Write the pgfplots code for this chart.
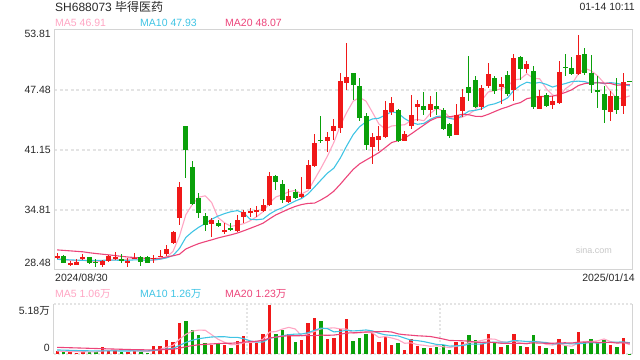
\documentclass[border=0pt]{standalone}
\usepackage{fontspec}
\setmainfont{Liberation Sans}
\newfontfamily\cjk{Noto Sans CJK SC}
\usepackage{pgfplots}
\pgfplotsset{compat=1.18}
\usepackage{pgfplotstable}
\definecolor{up}{RGB}{240,24,24}
\definecolor{dn}{RGB}{10,160,10}
\definecolor{maA}{RGB}{255,165,195}
\definecolor{maB}{RGB}{64,196,228}
\definecolor{maC}{RGB}{236,68,122}
\definecolor{framec}{RGB}{212,212,212}
\definecolor{gridc}{RGB}{228,228,228}
\definecolor{txt}{RGB}{40,40,40}

\pgfplotstableread{
i o h l c v
0 29.78 30.24 29.60 29.99 3100
2 29.00 29.46 28.90 29.21 2400
3 29.04 29.64 28.97 29.32 1400
4 29.64 30.13 29.53 29.88 2400
7 29.00 29.53 28.83 29.42 7200
8 29.46 30.06 29.35 29.95 4100
9 29.64 30.34 29.53 29.88 4100
11 29.28 29.74 28.83 29.46 2400
12 29.71 30.24 29.64 29.74 3400
15 29.64 30.06 29.25 29.78 8300
16 29.92 30.59 29.81 29.99 8300
17 30.16 31.11 29.99 30.73 14500
18 31.36 32.63 31.22 32.49 12400
19 34.00 37.80 33.22 37.24 32500
24 33.37 33.93 31.99 33.75 9700
26 32.56 33.40 32.27 32.63 9300
28 32.59 34.28 32.52 33.75 13500
29 34.10 34.81 33.47 34.63 18600
30 34.60 34.98 34.10 34.67 11700
31 34.67 35.27 34.10 34.74 11700
32 34.74 35.93 34.63 35.34 21100
33 35.34 38.78 35.27 38.40 50800
36 35.69 37.02 35.51 36.29 20400
38 36.15 38.26 36.04 36.50 14500
39 37.06 40.09 36.99 39.52 32100
40 39.45 42.80 39.38 41.85 37000
42 42.13 43.04 40.93 42.48 15500
43 43.18 44.45 42.20 43.68 16900
44 43.50 49.24 42.90 48.43 26200
45 48.25 52.40 47.48 48.81 36300
49 41.46 42.94 39.70 42.52 22100
50 42.23 43.64 41.00 42.66 12800
51 42.48 46.28 42.41 45.40 18000
52 45.15 46.70 44.80 46.10 9300
54 42.13 43.11 42.06 42.83 4100
55 43.71 46.98 43.40 44.84 15200
56 45.68 46.46 44.24 46.00 8300
58 45.40 46.84 44.59 46.00 6200
62 42.76 46.00 42.69 44.80 12800
63 45.30 47.58 44.59 46.74 12800
66 45.68 48.04 45.40 47.69 10400
67 47.86 50.33 47.69 49.17 20700
69 47.79 48.81 46.03 48.11 7200
71 47.51 51.31 46.28 50.85 20700
73 49.73 50.50 49.27 50.22 7200
75 45.51 47.51 45.51 46.81 8300
77 45.93 46.81 45.51 46.28 5200
78 46.10 50.50 46.00 49.38 15500
81 49.17 53.32 49.10 51.21 22800
86 45.12 47.34 44.24 46.81 9300
88 45.82 49.27 44.98 48.32 16600
}\uptab

\pgfplotstableread{
i o h l c v
1 29.95 30.06 29.18 29.25 2400
5 29.85 29.88 29.07 29.18 2400
6 29.36 29.64 28.83 29.25 2400
10 29.60 30.16 29.25 29.42 2400
13 29.85 29.95 28.93 29.35 2400
14 29.85 29.99 29.18 29.25 1400
20 43.68 43.68 38.15 41.14 34200
21 39.35 40.02 35.33 35.41 24900
22 36.04 36.60 34.00 34.53 19700
23 34.17 34.46 32.59 33.22 11700
25 33.47 33.75 33.05 33.15 10400
27 32.91 33.47 32.63 32.70 6600
34 38.40 38.50 36.92 37.80 20700
35 37.55 37.98 35.58 35.86 24900
37 36.71 36.99 36.00 36.11 12800
41 42.23 44.73 41.85 42.16 34200
46 49.27 49.27 46.46 48.04 13500
47 47.90 48.74 44.24 44.52 16600
48 44.77 45.05 41.18 41.71 20700
53 45.40 45.50 41.99 42.06 11400
57 45.79 47.23 44.87 45.40 6200
59 45.79 47.23 44.80 45.51 7200
60 45.40 45.58 43.29 43.40 9700
61 43.89 43.99 42.41 42.66 4100
64 47.76 51.03 46.35 47.12 19700
65 48.50 48.99 45.58 45.65 14500
68 48.74 48.99 47.09 47.41 11700
70 49.06 49.52 46.81 47.09 9300
72 50.96 51.03 48.57 49.73 8300
74 49.52 49.97 45.51 45.68 19700
76 46.98 47.16 45.65 45.75 6200
79 49.90 51.28 48.99 49.83 8300
80 49.80 50.92 49.10 49.20 5200
82 51.31 51.91 49.10 49.27 13100
83 49.27 51.14 47.16 47.97 15500
84 47.51 48.92 45.58 47.23 11700
85 47.05 47.86 43.99 45.40 14800
87 46.81 48.74 44.98 45.40 7200
89 48.43 48.46 48.32 48.36 300
}\dntab

\pgfplotstableread{
i a b c va vb vc
0 29.70 29.60 30.60 3000 4200 6900
1 29.60 29.58 30.55 2800 4000 6700
2 29.50 29.55 30.50 2600 3800 6500
3 29.45 29.52 30.45 2400 3600 6300
4 29.53 29.50 30.40 2340 3400 6100
5 29.37 29.50 30.30 2200 3300 5900
6 29.37 29.50 30.22 2200 3200 5700
7 29.41 29.50 30.15 3160 3200 5500
8 29.54 29.52 30.08 3700 3200 5300
9 29.54 29.53 30.00 4040 3190 5100
10 29.58 29.48 29.92 4040 3120 4900
11 29.63 29.50 29.85 4040 3120 4700
12 29.69 29.55 29.80 3280 3220 4500
13 29.57 29.55 29.75 2940 3320 4400
14 29.44 29.49 29.70 2400 3220 4300
15 29.52 29.55 29.68 3580 3810 4300
16 29.62 29.62 29.72 4760 4400 4400
17 29.82 29.76 29.85 6980 5130 4600
18 30.45 30.01 29.98 8980 5960 4900
19 32.05 30.75 30.14 15200 8800 5995
20 34.32 31.92 30.70 20380 11980 7550
21 35.40 32.51 31.00 23700 14230 8675
22 36.16 32.99 31.27 24740 15860 9540
23 36.31 33.38 31.47 24600 16790 10055
24 35.61 33.83 31.66 20040 17620 10420
25 34.01 34.17 31.86 15280 17830 10820
26 33.46 34.43 32.03 12160 17930 11165
27 33.09 34.63 32.19 9540 17140 11135
28 33.20 34.75 32.38 9900 17250 11605
29 33.37 34.49 32.62 11680 15860 12330
30 33.68 33.84 32.88 11940 13610 12795
31 34.10 33.78 33.14 12420 12290 13260
32 34.63 33.86 33.42 15320 12430 14145
33 35.56 34.38 33.88 22780 16340 16565
34 36.19 34.78 34.30 23200 17440 17530
35 36.43 35.05 34.61 25840 18890 18360
36 36.74 35.42 34.92 27580 20000 18965
37 36.89 35.76 35.19 25920 20620 18880
38 36.51 36.03 35.39 18660 20720 18985
39 36.86 36.52 35.51 20940 22070 18965
40 38.05 37.24 35.54 23360 24600 19105
41 39.23 37.98 35.88 26120 26850 19570
42 40.50 38.70 36.28 26660 26290 19360
43 41.94 39.23 36.80 27140 22900 19620
44 43.72 40.29 37.53 25960 23450 20445
45 45.11 41.58 38.32 25820 24590 21740
46 46.29 42.76 39.09 21680 23900 21950
47 46.70 43.60 39.68 21900 24280 22450
48 46.30 44.12 40.08 22660 24900 22810
49 45.12 44.42 40.47 21840 23900 22985
50 43.89 44.50 40.87 17140 21480 23040
51 43.36 44.83 41.40 18040 19860 23355
52 43.68 45.19 41.94 16580 19240 22765
53 43.75 45.03 42.13 14720 18690 20795
54 43.81 44.46 42.38 11120 16480 19965
55 44.25 44.07 42.83 11600 14370 19480
56 44.37 43.86 43.31 9660 13850 18875
57 44.23 43.95 43.78 9040 12810 18545
58 45.01 44.38 44.25 8000 11360 18130
59 45.55 44.68 44.55 8620 9870 16885
60 45.26 44.75 44.63 7520 9560 15520
61 44.59 44.48 44.65 6680 8170 14015
62 44.47 44.35 44.77 8000 8520 13880
63 44.62 44.82 44.92 9320 8660 13675
64 44.94 45.25 44.86 11820 10220 13350
65 45.39 45.33 44.70 12780 10150 12260
66 46.40 45.50 44.68 14040 10360 12105
67 47.27 45.87 44.91 15620 11810 12310
68 47.41 46.02 45.20 15400 12360 11860
69 47.61 46.28 45.48 12900 12360 11115
70 47.89 46.64 45.70 11860 12320 10940
71 48.53 47.46 45.97 13920 13980 11075
72 48.64 47.96 46.15 11440 13530 11025
73 49.20 48.30 46.56 10540 12970 10815
74 48.71 48.16 46.70 13040 12970 11595
75 48.66 48.28 46.80 12840 12350 11250
76 47.64 48.08 46.79 9940 11930 11145
77 46.95 47.79 46.83 9320 10380 11095
78 46.78 47.99 47.00 10980 10760 11560
79 47.61 48.16 47.22 8700 10870 11615
80 48.09 48.37 47.51 8080 10460 11390
81 49.18 48.41 47.94 11400 10670 12325
82 49.78 48.36 48.16 12980 11150 12340
83 49.50 48.14 48.22 12980 11980 12475
84 48.98 48.29 48.23 13660 11180 12075
85 48.22 48.15 48.21 15580 11830 12090
86 47.34 48.26 48.17 12880 12140 12035
87 46.56 48.17 47.98 11700 12340 11360
88 46.63 48.06 48.03 11920 12450 11605
89 46.86 47.92 48.04 9640 11650 11260
}\matab

\newcommand\sm{\fontsize{10.5bp}{12bp}\selectfont}
\pgfplotsset{
  candle/.style={draw=none, mark=none, forget plot,
    error bars/.cd, y dir=both, y explicit, error mark=none,
    error bar style={line cap=butt, #1}}
}

\begin{document}
\begin{tikzpicture}
\path[use as bounding box] (0,0) rectangle (640bp,360bp);

% header texts
\node[anchor=base west, inner sep=0, text=txt, font=\fontsize{12bp}{14bp}\selectfont] at (55bp,348.3bp) {SH688073 {\cjk 毕得医药}};
\node[anchor=base east, inner sep=0, text=txt, font=\sm] at (635bp,349.3bp) {01-14 10:11};
\node[anchor=base west, inner sep=0, text=maA, font=\sm] at (55bp,333.3bp) {MA5 46.91};
\node[anchor=base west, inner sep=0, text=maB, font=\sm] at (140bp,333.3bp) {MA10 47.93};
\node[anchor=base west, inner sep=0, text=maC, font=\sm] at (225bp,333.3bp) {MA20 48.07};

\begin{axis}[at={(54bp,90bp)}, anchor=south west, scale only axis,
  width=579bp, height=240bp, xmin=-0.5, xmax=89.5, ymin=28.48, ymax=53.81,
  axis line style={framec, line width=1bp}, xtick=\empty,
  ytick={34.81,41.15,47.48}, yticklabels={}, major tick length=0pt,
  ymajorgrids, major grid style={gridc, line width=2bp, dash pattern=on 3bp off 2.5bp},
  clip=false]
  \addplot[maA, line width=1.1bp, line join=round] table[x=i, y=a] {\matab};
  \addplot[maB, line width=1.1bp, line join=round] table[x=i, y=b] {\matab};
  \addplot[maC, line width=1.1bp, line join=round] table[x=i, y=c] {\matab};
  % wicks
  \addplot[candle={draw=up, line width=1bp}]
    table[x=i, y expr={(\thisrow{h}+\thisrow{l})/2}, y error expr={(\thisrow{h}-\thisrow{l})/2}] {\uptab};
  \addplot[candle={draw=dn, line width=1bp}]
    table[x=i, y expr={(\thisrow{h}+\thisrow{l})/2}, y error expr={(\thisrow{h}-\thisrow{l})/2}] {\dntab};
  % bodies
  \addplot[candle={draw=up, line width=5bp}]
    table[x=i, y expr={(\thisrow{o}+\thisrow{c})/2}, y error expr={max(abs(\thisrow{c}-\thisrow{o})/2,0.055)}] {\uptab};
  \addplot[candle={draw=dn, line width=5bp}]
    table[x=i, y expr={(\thisrow{o}+\thisrow{c})/2}, y error expr={max(abs(\thisrow{c}-\thisrow{o})/2,0.055)}] {\dntab};
  % y labels
  \node[anchor=base east, inner sep=0, text=txt, font=\sm] at (axis cs:-0.5,53.81) [xshift=-3bp, yshift=-7.7bp] {53.81};
  \node[anchor=base east, inner sep=0, text=txt, font=\sm] at (axis cs:-0.5,47.48) [xshift=-3bp, yshift=-3.7bp] {47.48};
  \node[anchor=base east, inner sep=0, text=txt, font=\sm] at (axis cs:-0.5,41.15) [xshift=-3bp, yshift=-3.7bp] {41.15};
  \node[anchor=base east, inner sep=0, text=txt, font=\sm] at (axis cs:-0.5,34.81) [xshift=-3bp, yshift=-3.7bp] {34.81};
  \node[anchor=base east, inner sep=0, text=txt, font=\sm] at (axis cs:-0.5,28.48) [xshift=-3bp, yshift=3.5bp] {28.48};
  \node[anchor=base east, inner sep=0, text=black!22, font=\fontsize{9bp}{10bp}\selectfont] at (axis cs:89.5,28.48) [xshift=-21bp, yshift=16bp] {sina.com};
\end{axis}

% date labels
\node[anchor=base west, inner sep=0, text=txt, font=\sm] at (55bp,78.3bp) {2024/08/30};
\node[anchor=base east, inner sep=0, text=txt, font=\sm] at (635bp,78.3bp) {2025/01/14};
\node[anchor=base west, inner sep=0, text=maA, font=\sm] at (55bp,62bp) {MA5 1.06{\cjk 万}};
\node[anchor=base west, inner sep=0, text=maB, font=\sm] at (140bp,62bp) {MA10 1.26{\cjk 万}};
\node[anchor=base west, inner sep=0, text=maC, font=\sm] at (225bp,62bp) {MA20 1.23{\cjk 万}};

\begin{axis}[at={(54bp,6bp)}, anchor=south west, scale only axis,
  width=579bp, height=50bp, xmin=-0.5, xmax=89.5, ymin=0, ymax=51800,
  axis lines=none, clip=false]
  \draw[gridc, line width=1.5bp, dash pattern=on 2bp off 2bp] (rel axis cs:0,1) -- (rel axis cs:1,1);
  \draw[gridc, line width=1.5bp, dash pattern=on 2bp off 2bp] (rel axis cs:0,0) -- (rel axis cs:1,0);
  \draw[gridc, line width=1.2bp, dash pattern=on 2bp off 2bp] (rel axis cs:0.3333,0) -- (rel axis cs:0.3333,1);
  \draw[gridc, line width=1.2bp, dash pattern=on 2bp off 2bp] (rel axis cs:0.6667,0) -- (rel axis cs:0.6667,1);
  \draw[framec, line width=1bp] (rel axis cs:0,0) -- (rel axis cs:0,1);
  \draw[framec, line width=1bp] (rel axis cs:1,0) -- (rel axis cs:1,1);
  \addplot[ycomb, up, line width=3.4bp, mark=none] table[x=i, y=v] {\uptab};
  \addplot[ycomb, dn, line width=3.4bp, mark=none] table[x=i, y=v] {\dntab};
  \addplot[maA, line width=1.1bp, line join=round] table[x=i, y=va] {\matab};
  \addplot[maB, line width=1.1bp, line join=round] table[x=i, y=vb] {\matab};
  \addplot[maC, line width=1.1bp, line join=round] table[x=i, y=vc] {\matab};
  \node[anchor=base east, inner sep=0, text=txt, font=\sm] at (axis cs:-0.5,51800) [xshift=-4bp, yshift=-11bp] {5.18{\cjk 万}};
  \node[anchor=base east, inner sep=0, text=txt, font=\sm] at (axis cs:-0.5,0) [xshift=-4bp, yshift=2.5bp] {0};
\end{axis}
\end{tikzpicture}
\end{document}
